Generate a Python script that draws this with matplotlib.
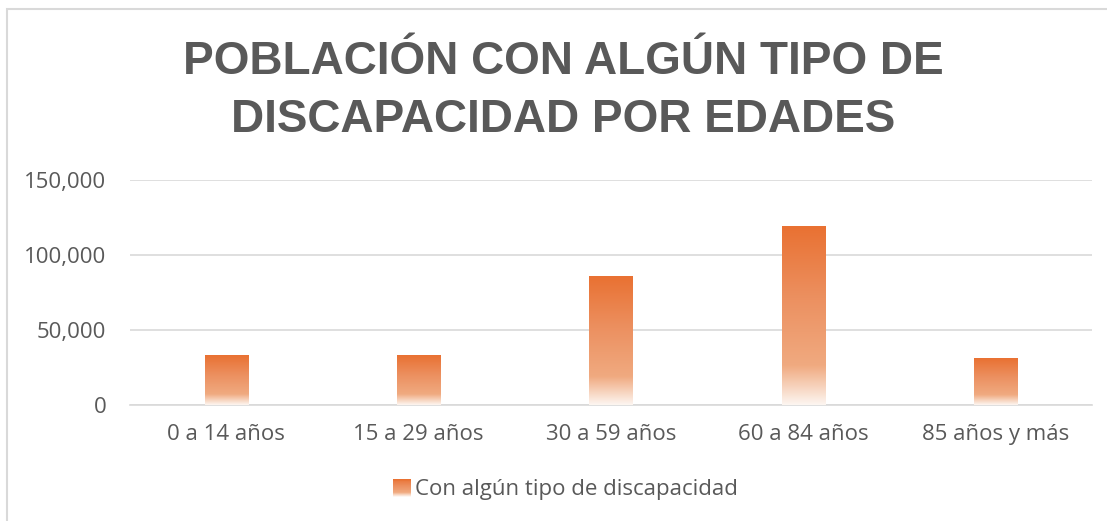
import numpy as np
import matplotlib.pyplot as plt
from matplotlib.colors import LinearSegmentedColormap
from matplotlib.patches import Rectangle
from matplotlib.legend_handler import HandlerBase

# Datos: población con algún tipo de discapacidad por grupo de edad
edades = ['0 a 14 años', '15 a 29 años', '30 a 59 años', '60 a 84 años', '85 años y más']
poblacion = [33300, 32700, 86000, 118700, 31300]
serie = 'Con algún tipo de discapacidad'
titulo = 'POBLACIÓN CON ALGÚN TIPO DE\nDISCAPACIDAD POR EDADES'

gris = '#595959'
rejilla = '#D9D9D9'
plt.rcParams['font.family'] = ['Open Sans', 'DejaVu Sans']

# Degradado naranja (arriba) -> casi blanco (abajo)
degradado = LinearSegmentedColormap.from_list(
    'naranja',
    [(0.0, '#FDF6F1'), (0.22, '#F0AA80'), (0.6, '#EC9060'), (1.0, '#E97132')])

W, H = 1107, 521
fig = plt.figure(figsize=(W / 100, H / 100), dpi=100)
ax = fig.add_axes([130 / W, 1 - 405 / H, (1092 - 130) / W, (405 - 180) / H])

ancho = 0.225
grad = np.linspace(0, 1, 256).reshape(-1, 1)
for i, v in enumerate(poblacion):
    ax.imshow(grad, cmap=degradado, origin='lower', aspect='auto',
              extent=(i - ancho / 2, i + ancho / 2, 0, v), zorder=3,
              interpolation='bilinear')

ax.set_xlim(-0.5, len(edades) - 0.5)
ax.set_ylim(0, 150000)
ax.set_yticks(np.arange(0, 150001, 50000))
ax.yaxis.set_major_formatter(plt.FuncFormatter(lambda v, p: f'{v:,.0f}'))
ax.set_xticks(range(len(edades)))
ax.set_xticklabels(edades)
ax.tick_params(length=0, labelsize=16, colors=gris)
ax.tick_params(axis='y', pad=17)
ax.tick_params(axis='x', pad=14)
ax.grid(axis='y', color=rejilla, linewidth=1.2, zorder=0)
for lado in ['top', 'right', 'left']:
    ax.spines[lado].set_visible(False)
ax.spines['bottom'].set_color(rejilla)
ax.spines['bottom'].set_linewidth(1.2)

fig.text(563 / W, 1 - 91 / H, titulo, ha='center', va='center',
         fontsize=33, fontweight='bold', color=gris, linespacing=1.4,
         family=['Liberation Sans', 'DejaVu Sans'])


# Leyenda con el cuadrado en degradado
class HandlerDegradado(HandlerBase):
    def create_artists(self, legend, orig, x0, y0, width, height, fontsize, trans):
        lado = 13
        n = 20
        yb = y0 + (height - lado) / 2
        piezas = []
        for k in range(n):
            c = degradado(1 - k / (n - 1))
            piezas.append(Rectangle((x0 + width - lado, yb + lado * (1 - (k + 1) / n)),
                                    lado, lado / n, facecolor=c, edgecolor='none',
                                    transform=trans))
        return piezas


ley = fig.legend([Rectangle((0, 0), 1, 1)], [serie],
                 handler_map={Rectangle: HandlerDegradado()},
                 loc='center', bbox_to_anchor=(568 / W, 1 - 490 / H),
                 frameon=False, fontsize=16, handlelength=0.6,
                 handletextpad=0.2, labelcolor=gris)

# Marco del gráfico
fig.add_artist(Rectangle((6.5 / W, -0.1), 1.2, 1 - 9 / H + 0.1,
                         transform=fig.transFigure, fill=False,
                         edgecolor=rejilla, linewidth=1.5))

fig.savefig('out.png', dpi=100, facecolor='white')
